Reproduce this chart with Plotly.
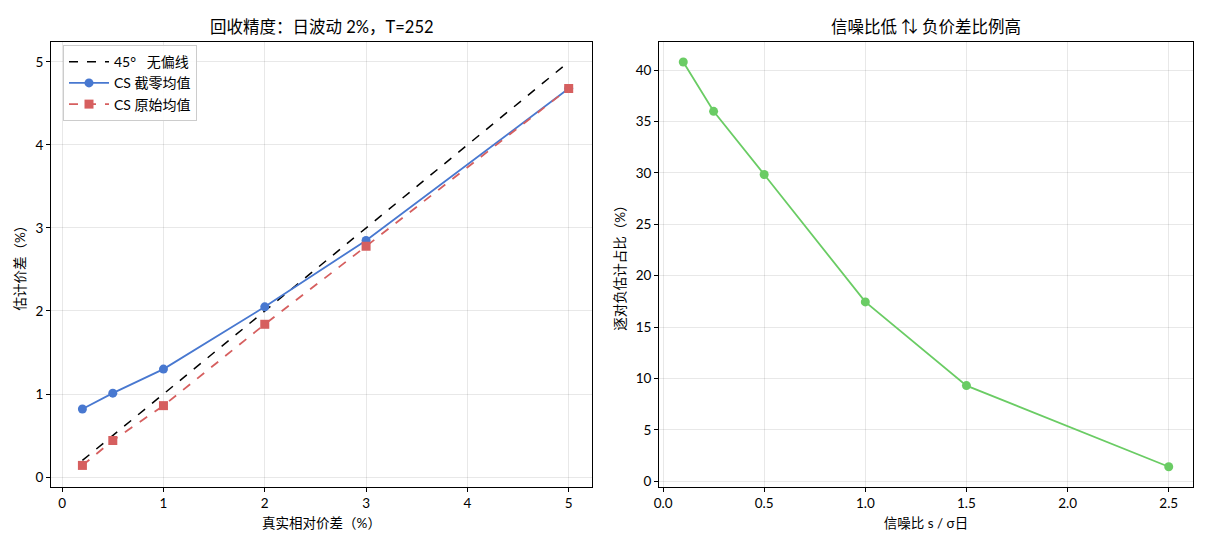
import plotly.graph_objects as go

# ---- data ----
true_spread = [0.2, 0.5, 1.0, 2.0, 3.0, 5.0]
cs_trunc_mean = [0.82, 1.01, 1.30, 2.05, 2.85, 4.68]
cs_raw_mean = [0.14, 0.44, 0.86, 1.84, 2.78, 4.68]
diag_x = [0.2, 5.0]

snr = [0.1, 0.25, 0.5, 1.0, 1.5, 2.5]
neg_share = [40.8, 36.0, 29.85, 17.45, 9.3, 1.4]

BLUE = "#4878d0"
RED = "#d65f5f"
GREEN = "#6acc64"
FONT = "Lato, Noto Sans CJK SC, sans-serif"

fig = go.Figure()

fig.add_trace(go.Scatter(x=diag_x, y=diag_x, mode="lines", name="45°   无偏线",
                         line=dict(color="black", dash="dash", width=1.5),
                         xaxis="x", yaxis="y"))
fig.add_trace(go.Scatter(x=true_spread, y=cs_trunc_mean, mode="lines+markers", name="CS 截零均值",
                         line=dict(color=BLUE, width=1.8),
                         marker=dict(symbol="circle", size=9, color=BLUE),
                         xaxis="x", yaxis="y"))
fig.add_trace(go.Scatter(x=true_spread, y=cs_raw_mean, mode="lines+markers", name="CS 原始均值",
                         line=dict(color=RED, width=1.8, dash="dash"),
                         marker=dict(symbol="square", size=9, color=RED),
                         xaxis="x", yaxis="y"))
fig.add_trace(go.Scatter(x=snr, y=neg_share, mode="lines+markers", showlegend=False,
                         line=dict(color=GREEN, width=1.8),
                         marker=dict(symbol="circle", size=9, color=GREEN),
                         xaxis="x2", yaxis="y2"))

axis_common = dict(showline=True, linecolor="black", linewidth=1, mirror=True,
                   ticks="outside", ticklen=4, tickcolor="black",
                   showgrid=True, gridcolor="rgba(0,0,0,0.09)", gridwidth=1,
                   zeroline=False, tickfont=dict(size=13.5, color="black"),
                   title_font=dict(size=13.5, color="black"))

L, R, T, B = 51, 17, 42, 63
W, H = 1210, 550
pw = W - L - R

fig.update_layout(
    width=W, height=H,
    margin=dict(l=L, r=R, t=T, b=B),
    paper_bgcolor="white", plot_bgcolor="white",
    font=dict(family=FONT, color="black"),
    xaxis=dict(domain=[0, (592 - L) / pw], range=[-0.11, 5.23], tickvals=[0, 1, 2, 3, 4, 5],
               title=dict(text="真实相对价差（%）", standoff=8), anchor="y", **axis_common),
    yaxis=dict(domain=[0, 1], range=[-0.12, 5.24], tickvals=[0, 1, 2, 3, 4, 5],
               title=dict(text="估计价差（%）", standoff=6), anchor="x", **axis_common),
    xaxis2=dict(domain=[(659 - L) / pw, 1], range=[-0.02, 2.62],
                tickvals=[0, 0.5, 1.0, 1.5, 2.0, 2.5], tickformat=".1f",
                title=dict(text="信噪比 s / σ日", standoff=8), anchor="y2", **axis_common),
    yaxis2=dict(domain=[0, 1], range=[-0.57, 42.75], tickvals=[0, 5, 10, 15, 20, 25, 30, 35, 40],
                title=dict(text="逐对负估计占比（%）", standoff=6), anchor="x2", **axis_common),
    legend=dict(x=(63 - L) / pw, y=0.993, xanchor="left", yanchor="top",
                bgcolor="rgba(255,255,255,0.85)", bordercolor="#cccccc", borderwidth=1,
                font=dict(size=14, color="black"), tracegroupgap=0, itemwidth=40),
    annotations=[
        dict(text="回收精度：日波动 2%，T=252", x=(321.5 - L) / pw, y=1, xref="paper", yref="paper",
             xanchor="center", yanchor="bottom", yshift=3, showarrow=False,
             font=dict(size=16.5, color="black")),
        dict(text="信噪比低 ⇅ 负价差比例高", x=(926 - L) / pw, y=1, xref="paper", yref="paper",
             xanchor="center", yanchor="bottom", yshift=3, showarrow=False,
             font=dict(size=16.5, color="black")),
    ],
)

fig.write_html("out.html")
